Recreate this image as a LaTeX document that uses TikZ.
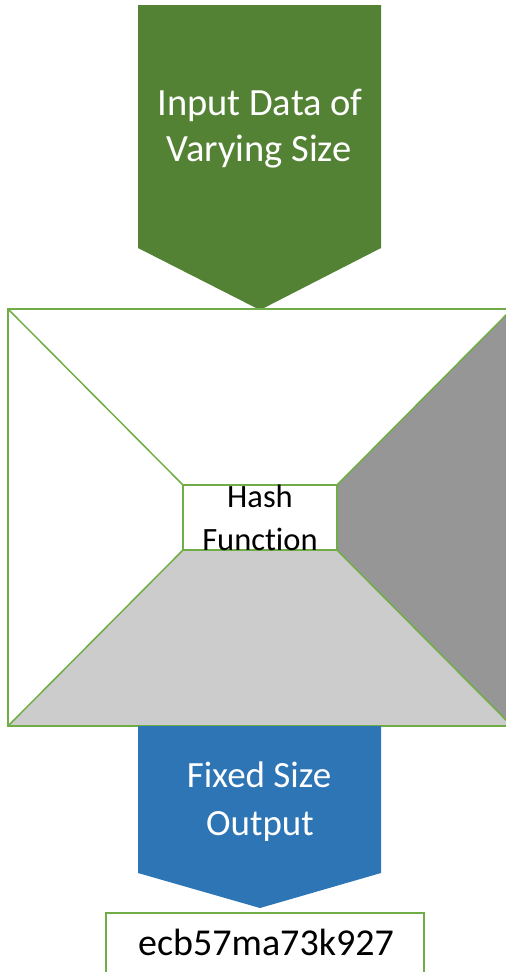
\documentclass[tikz,border=0pt]{standalone}
\usepackage{fontspec}
\setmainfont{Carlito}[Ligatures={NoCommon}]
\definecolor{inGreen}{HTML}{548235}
\definecolor{lineGreen}{HTML}{70AD47}
\definecolor{outBlue}{HTML}{2E75B6}
\definecolor{darkGray}{HTML}{969696}
\definecolor{lightGray}{HTML}{CCCCCC}
\tikzset{
  edge/.style={draw=lineGreen, line width=1.5pt, line join=miter},
  lbl/.style={anchor=base, inner sep=0pt, font=\fontsize{37}{44}\selectfont},
  wlbl/.style={lbl, text=white},
}
\begin{document}
\begin{tikzpicture}[x=1pt,y=-1pt]
\useasboundingbox (0,0) rectangle (506,972);
\clip (0,0) rectangle (506,972);
% input chevron
\fill[inGreen] (138,5) -- (381,5) -- (381,248) -- (260,310) -- (138,248) -- cycle;
\node[wlbl, font=\fontsize{38.5}{46}\selectfont] (in1) at (260,115) {Input Data of};
\node[wlbl, font=\fontsize{38.5}{46}\selectfont] (in2) at (259,161) {Varying Size};
% hash function box
\coordinate (A) at (8,309);
\coordinate (B) at (512,309);
\coordinate (C) at (512,726);
\coordinate (D) at (8,726);
\coordinate (a) at (183,485);
\coordinate (b) at (337,485);
\coordinate (c) at (337,550);
\coordinate (d) at (183,550);
\fill[darkGray] (B) -- (C) -- (c) -- (b) -- cycle;
\fill[lightGray] (d) -- (c) -- (C) -- (D) -- cycle;
\draw[edge] (A) -- (B) -- (C) -- (D) -- cycle;
\draw[edge] (a) -- (b) -- (c) -- (d) -- cycle;
\draw[edge] (A) -- (a) (B) -- (b) (C) -- (c) (D) -- (d);
\node[lbl, font=\fontsize{32.5}{40}\selectfont] (h1) at (260,507) {Hash};
\node[lbl, font=\fontsize{32.5}{40}\selectfont] (h2) at (260,550) {Function};
% output chevron
\fill[outBlue] (138,726) -- (381,726) -- (381,873) -- (260,908) -- (138,873) -- cycle;
\node[wlbl] (out1) at (259,787) {Fixed Size};
\node[wlbl] (out2) at (260,835) {Output};
% output value box
\draw[edge] (106,990) -- (106,913) -- (424,913) -- (424,990);
\node[lbl, font=\fontsize{38}{46}\selectfont] (val) at (266,955) {ecb57ma73k927};
\end{tikzpicture}
\end{document}
